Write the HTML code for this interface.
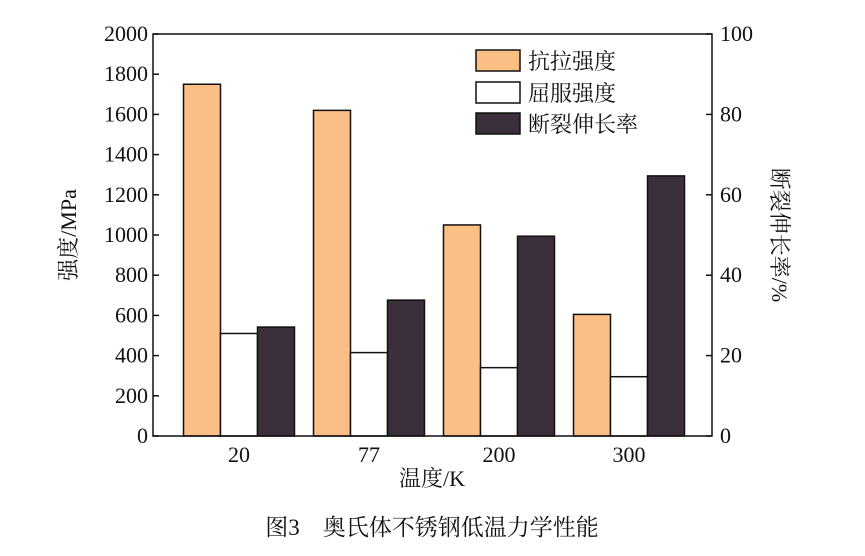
<!DOCTYPE html>
<html><head><meta charset="utf-8">
<style>
body{margin:0;background:#fff;width:865px;height:551px;overflow:hidden}
svg text{font-family:"Liberation Serif","Noto Serif CJK SC",serif;fill:#111}
</style></head>
<body>
<svg id="chart" width="865" height="551" xmlns="http://www.w3.org/2000/svg">
<g id="plot"></g>
</svg>
<script>
const categories=["20","77","200","300"];
const tensile=[1750,1620,1050,605];
const yieldS=[510,415,340,295];
const elong=[27.1,33.8,49.7,64.7];
const leftTicks=[0,200,400,600,800,1000,1200,1400,1600,1800,2000];
const rightTicks=[0,20,40,60,80,100];
const L=153,R=712,T=34,B=436;
const yL=v=>B-(v/2000)*(B-T);
const yR=v=>B-(v/100)*(B-T);
const xC=i=>239+130*i;
const bw=37;
const NS="http://www.w3.org/2000/svg";
const g=document.getElementById('plot');
function mk(tag,attrs,name){const e=document.createElementNS(NS,tag);for(const k in attrs)e.setAttribute(k,attrs[k]);g.appendChild(e);return e;}
function txt(x,y,s,name,extra){const e=mk('text',Object.assign({x:x,y:y,'font-size':22},extra||{}),name);e.textContent=s;return e;}
categories.forEach((c,i)=>{
  const cx=xC(i);
  let b=mk('rect',{x:cx-1.5*bw,y:yL(tensile[i]),width:bw,height:B-yL(tensile[i]),fill:'#fbbf85',stroke:'#111','stroke-width':1.5},'bar-tensile');
  b=mk('rect',{x:cx-0.5*bw,y:yL(yieldS[i]),width:bw,height:B-yL(yieldS[i]),fill:'#fff',stroke:'#111','stroke-width':1.5},'bar-yield');
  b=mk('rect',{x:cx+0.5*bw,y:yR(elong[i]),width:bw,height:B-yR(elong[i]),fill:'#3a2f3a',stroke:'#111','stroke-width':1.5},'bar-elongation');
  txt(cx,462,c,'x-tick-label',{'text-anchor':'middle'});
});
mk('rect',{x:L,y:T,width:R-L,height:B-T,fill:'none',stroke:'#111','stroke-width':1.5},'plot-frame');
leftTicks.forEach(v=>{const y=yL(v);mk('line',{x1:L,x2:L+6,y1:y,y2:y,stroke:'#111','stroke-width':1.5},'y-tick');txt(L-5,y+7,String(v),'y-tick-label',{'text-anchor':'end'});});
rightTicks.forEach(v=>{const y=yR(v);mk('line',{x1:R-6,x2:R,y1:y,y2:y,stroke:'#111','stroke-width':1.5},'y2-tick');txt(R+8,y+7,String(v),'y2-tick-label');});
txt(432,486,'温度/K','x-axis-title',{'text-anchor':'middle'});
txt(0,0,'强度/MPa','y-axis-title',{'text-anchor':'middle',transform:'translate(76,235) rotate(-90)'});
txt(0,0,'断裂伸长率/%','y2-axis-title',{'text-anchor':'middle',transform:'translate(772,235) rotate(90)'});
const leg=[['抗拉强度','#fbbf85',50],['屈服强度','#fff',82],['断裂伸长率','#3a2f3a',113]];
leg.forEach(l=>{mk('rect',{x:476,y:l[2],width:44,height:21,fill:l[1],stroke:'#111','stroke-width':1.5},'legend-swatch');txt(528,l[2]+19,l[0],'legend-label');});
txt(432,535,'图3　奥氏体不锈钢低温力学性能','figure-caption',{'text-anchor':'middle','font-size':23});
</script>
</body></html>
